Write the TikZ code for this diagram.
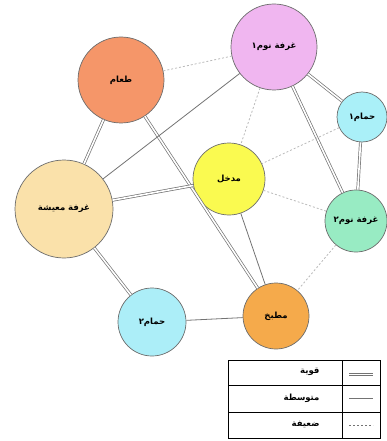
\documentclass[tikz,border=0pt]{standalone}
\usepackage{fontspec}
\newfontfamily\arfont[Script=Arabic]{DejaVu Sans}
\TeXXeTstate=1
\newcommand\rtltext[1]{\beginR #1\endR}
\definecolor{cfood}{RGB}{245,150,105}
\definecolor{cbed}{RGB}{240,182,240}
\definecolor{cbathA}{RGB}{170,240,248}
\definecolor{centry}{RGB}{250,250,80}
\definecolor{cliving}{RGB}{250,225,170}
\definecolor{cbedB}{RGB}{152,235,195}
\definecolor{cbathB}{RGB}{172,238,248}
\definecolor{ckitchen}{RGB}{245,170,75}
\definecolor{edgecol}{RGB}{115,115,115}
\tikzset{
  room/.style={circle, draw=gray!85!black, line width=0.7pt, minimum size=#1, inner sep=0pt,
    font=\arfont\bfseries\fontsize{8.5}{10}\selectfont},
  strong/.style={draw=edgecol, double=white, double distance=1.6pt, line width=0.7pt},
  medium/.style={draw=edgecol, line width=0.8pt},
  weak/.style={draw=gray!55, line width=0.8pt, dash pattern=on 2pt off 2pt},
  legtext/.style={anchor=east, font=\arfont\bfseries\fontsize{8.5}{10}\selectfont}
}
\begin{document}
\begin{tikzpicture}[x=1pt,y=-1pt]
\useasboundingbox (0,0) rectangle (386,441);
\node[room=86pt, fill=cfood] (food) at (121,80) {\rtltext{طعام}};
\node[room=86pt, fill=cbed] (bedA) at (274,47) {\rtltext{غرفة نوم١}};
\node[room=50pt, fill=cbathA] (bathA) at (362,117) {\rtltext{حمام١}};
\node[room=72pt, fill=centry] (entry) at (229,179) {\rtltext{مدخل}};
\node[room=98pt, fill=cliving] (living) at (64,209) {\rtltext{غرفة معيشة}};
\node[room=62pt, fill=cbedB] (bedB) at (356,221) {\rtltext{غرفة نوم٢}};
\node[room=68pt, fill=cbathB] (bathB) at (152,322) {\rtltext{حمام٢}};
\node[room=66pt, fill=ckitchen] (kitchen) at (276,316) {\rtltext{مطبخ}};
% edges
\draw[weak] (food) -- (bedA);
\draw[strong] (food) -- (living);
\draw[strong] (food) -- (kitchen);
\draw[medium] (bedA) -- (living);
\draw[strong] (bedA) -- (bathA);
\draw[strong] (bedA) -- (bedB);
\draw[weak] (bedA) -- (entry);
\draw[strong] (bathA) -- (bedB);
\draw[weak] (bathA) -- (entry);
\draw[strong] (entry) -- (living);
\draw[weak] (entry) -- (bedB);
\draw[medium] (entry) -- (kitchen);
\draw[strong] (living) -- (bathB);
\draw[medium] (bathB) -- (kitchen);
\draw[weak] (bedB) -- (kitchen);
% legend
\draw[line width=0.7pt] (228,360) rectangle (380,438);
\draw[line width=0.7pt] (228,385) -- (380,385);
\draw[line width=0.7pt] (228,412) -- (380,412);
\draw[line width=0.7pt] (342,360) -- (342,438);
\node[legtext] (l1) at (323,372) {\rtltext{قوية}};
\node[legtext] (l2) at (323,398) {\rtltext{متوسطة}};
\node[legtext] (l3) at (323,425) {\rtltext{ضعيفة}};
\coordinate (s1a) at (349,373); \coordinate (s1b) at (373,373);
\coordinate (s2a) at (349,398); \coordinate (s2b) at (373,398);
\coordinate (s3a) at (349,425); \coordinate (s3b) at (373,425);
\draw[draw=edgecol, line width=0.8pt] (s1a) -- (s1b);
\draw[draw=edgecol, line width=0.8pt] ([yshift=-2.5pt]s1a) -- ([yshift=-2.5pt]s1b);
\draw[medium] (s2a) -- (s2b);
\draw[weak, draw=edgecol] (s3a) -- (s3b);
\end{tikzpicture}
\end{document}
